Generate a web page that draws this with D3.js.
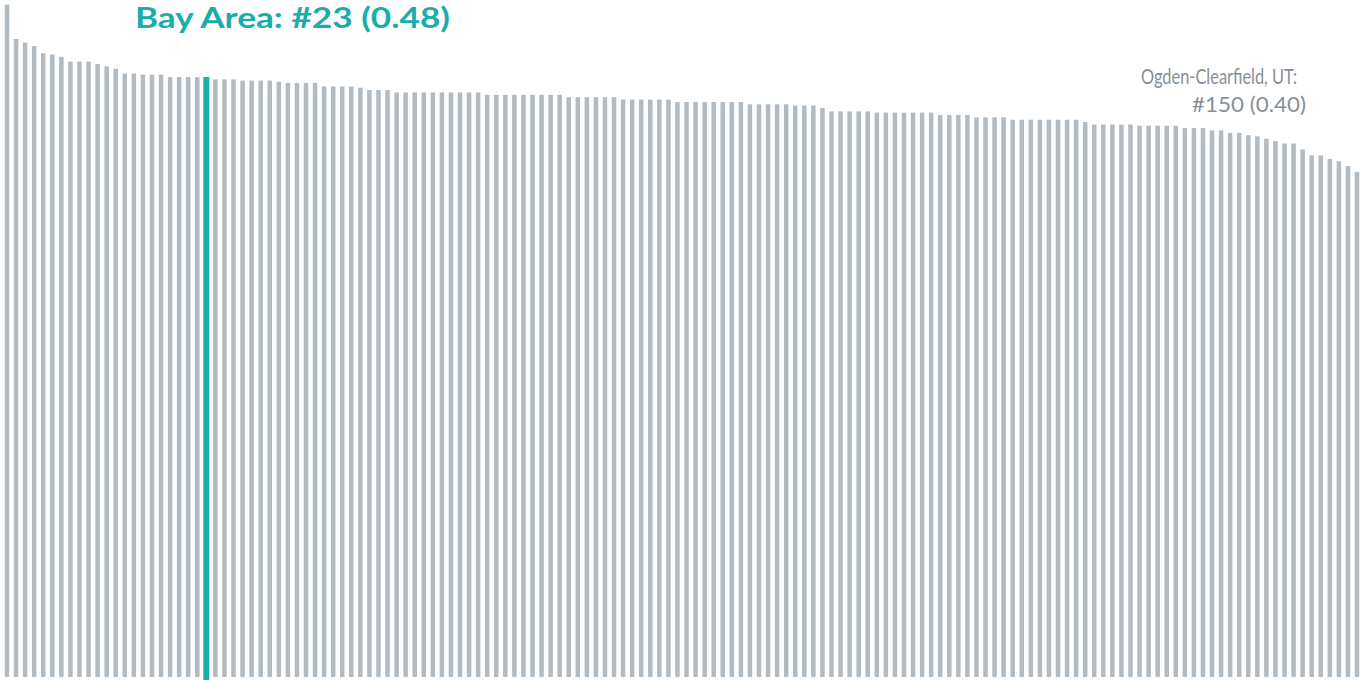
<!DOCTYPE html>
<html>
<head>
<meta charset="utf-8">
<script src="https://cdn.jsdelivr.net/npm/d3@7"></script>
<style>
  body { margin: 0; background: #fff; }
  svg { display: block; }
</style>
</head>
<body>
<div id="chart"></div>
<script>
// chart area
var svgWidth = 1361;
var svgHeight = 680;

// ranks 1..150, values (descending)
var ranks = d3.range(1, 151);
var values = [
  0.541, 0.512, 0.509, 0.506, 0.500, 0.499, 0.497, 0.493, 0.493, 0.493,
  0.491, 0.489, 0.487, 0.483, 0.483, 0.482, 0.482, 0.482, 0.480, 0.480,
  0.480, 0.480, 0.480, 0.478, 0.478, 0.478, 0.477, 0.477, 0.477, 0.477,
  0.476, 0.475, 0.475, 0.475, 0.475, 0.472, 0.472, 0.472, 0.472, 0.471,
  0.469, 0.469, 0.469, 0.467, 0.467, 0.467, 0.467, 0.467, 0.467, 0.467,
  0.467, 0.467, 0.467, 0.465, 0.465, 0.465, 0.465, 0.465, 0.465, 0.465,
  0.465, 0.465, 0.463, 0.463, 0.463, 0.463, 0.463, 0.463, 0.461, 0.461,
  0.461, 0.461, 0.461, 0.461, 0.459, 0.459, 0.459, 0.459, 0.459, 0.459,
  0.459, 0.459, 0.457, 0.457, 0.457, 0.457, 0.457, 0.456, 0.456, 0.456,
  0.454, 0.451, 0.451, 0.451, 0.451, 0.451, 0.450, 0.450, 0.450, 0.450,
  0.450, 0.450, 0.450, 0.448, 0.448, 0.448, 0.448, 0.446, 0.446, 0.446,
  0.446, 0.444, 0.444, 0.444, 0.444, 0.444, 0.444, 0.444, 0.444, 0.442,
  0.440, 0.440, 0.440, 0.440, 0.440, 0.439, 0.439, 0.439, 0.439, 0.439,
  0.437, 0.437, 0.437, 0.435, 0.435, 0.433, 0.433, 0.431, 0.430, 0.428,
  0.426, 0.424, 0.424, 0.419, 0.414, 0.414, 0.411, 0.409, 0.405, 0.400
];
var highlightRank = 23;
var titleLabel = "Bay Area: #23 (0.48)";
var noteLines = ["Ogden-Clearfield, UT:", "#150 (0.40)"];

var data = ranks.map(function(r, i) { return { rank: r, value: values[i] }; });

var svg = d3.select("#chart")
  .append("svg")
  .attr("width", svgWidth)
  .attr("height", svgHeight);

// scales
var x = d3.scalePoint()
  .domain(ranks)
  .range([7, 1357]);

var y = d3.scaleLinear()
  .domain([0.40, 0.48])
  .range([172, 77]);

var baseY = 677;

svg.selectAll("rect.bar")
  .data(data)
  .enter()
  .append("rect")
  .attr("class", "bar")
  .attr("x", d => x(d.rank) - (d.rank === highlightRank ? 3 : 2.25))
  .attr("width", d => d.rank === highlightRank ? 6 : 4.5)
  .attr("y", d => y(d.value))
  .attr("height", d => (d.rank === highlightRank ? svgHeight : baseY) - y(d.value))
  .attr("fill", d => d.rank === highlightRank ? "#1badaa" : "#b2bbc2");

// highlight label
svg.append("text")
  .attr("x", 135)
  .attr("y", 28)
  .attr("font-family", "Lato, 'Open Sans', sans-serif")
  .attr("font-weight", "bold")
  .attr("font-size", 29)
  .attr("fill", "#1badaa")
  .attr("textLength", 315)
  .attr("lengthAdjust", "spacingAndGlyphs")
  .text(titleLabel);

// last-place note
var noteX = [1141, 1192];
var noteW = [156, 114];
svg.selectAll("text.note")
  .data(noteLines)
  .enter()
  .append("text")
  .attr("class", "note")
  .attr("x", (d, i) => noteX[i])
  .attr("y", (d, i) => 84 + i * 28)
  .attr("font-family", "Lato, 'Open Sans', sans-serif")
  .attr("font-weight", 400)
  .attr("font-size", 22)
  .attr("fill", "#878f96")
  .attr("textLength", (d, i) => noteW[i])
  .attr("lengthAdjust", "spacingAndGlyphs")
  .text(d => d);
</script>
</body>
</html>
